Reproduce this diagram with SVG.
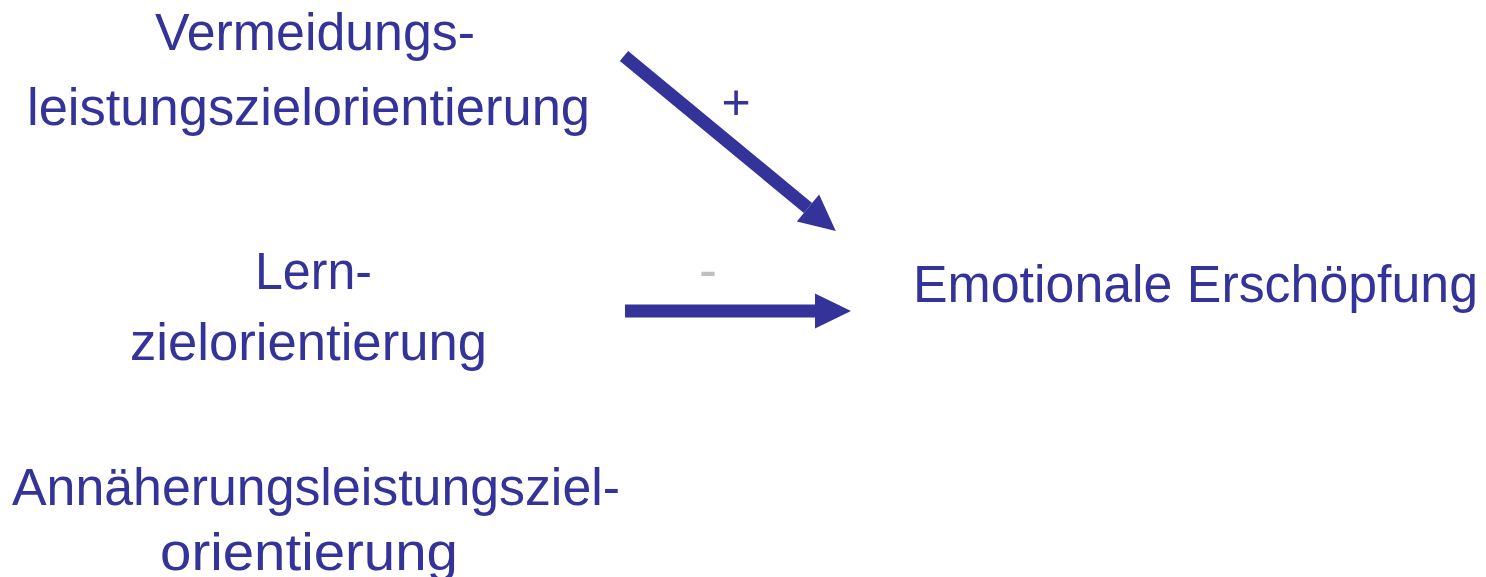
<svg xmlns="http://www.w3.org/2000/svg" width="1486" height="577" viewBox="0 0 1486 577">
<style>
.t{font-family:"Liberation Sans",Arial,sans-serif;font-size:51px;fill:#333399;}
.c{text-anchor:middle;}
.sh{stroke:#333399;stroke-width:13;fill:none;}
.lbl{font-family:"Liberation Sans",Arial,sans-serif;text-anchor:middle;}
</style>
<defs>
<marker id="ah" markerUnits="userSpaceOnUse" markerWidth="40" markerHeight="40" refX="0" refY="17.5" orient="auto" overflow="visible">
<path d="M0,0 L36,17.5 L0,35 Z" fill="#333399"/>
</marker>
</defs>
<rect width="1486" height="577" fill="#ffffff"/>
<g id="n-vermeidung">
<text class="t c" x="315" y="50" textLength="320" lengthAdjust="spacingAndGlyphs">Vermeidungs-</text>
<text class="t c" x="308.5" y="125" textLength="563" lengthAdjust="spacingAndGlyphs">leistungszielorientierung</text>
</g>
<g id="n-lern">
<text class="t c" x="313.5" y="289" textLength="117" lengthAdjust="spacingAndGlyphs">Lern-</text>
<text class="t c" x="308.5" y="360" textLength="357" lengthAdjust="spacingAndGlyphs">zielorientierung</text>
</g>
<g id="n-annaeherung">
<text class="t c" x="316" y="505" textLength="608" lengthAdjust="spacingAndGlyphs">Annäherungsleistungsziel-</text>
<text class="t c" x="309" y="570" textLength="298" lengthAdjust="spacingAndGlyphs">orientierung</text>
</g>
<g id="n-erschoepfung">
<text class="t" x="913" y="302" textLength="565" lengthAdjust="spacingAndGlyphs">Emotionale Erschöpfung</text>
</g>
<g id="connectors">
<line class="sh" x1="624" y1="56" x2="808" y2="208" marker-end="url(#ah)"/>
<line class="sh" x1="625" y1="311" x2="815" y2="311" marker-end="url(#ah)"/>
<text class="lbl" x="736" y="119" style="font-size:50px;fill:#333399;font-weight:300">+</text>
<text class="lbl" x="708" y="288" style="font-size:54px;fill:#c0c0c0">-</text>
</g>
</svg>
